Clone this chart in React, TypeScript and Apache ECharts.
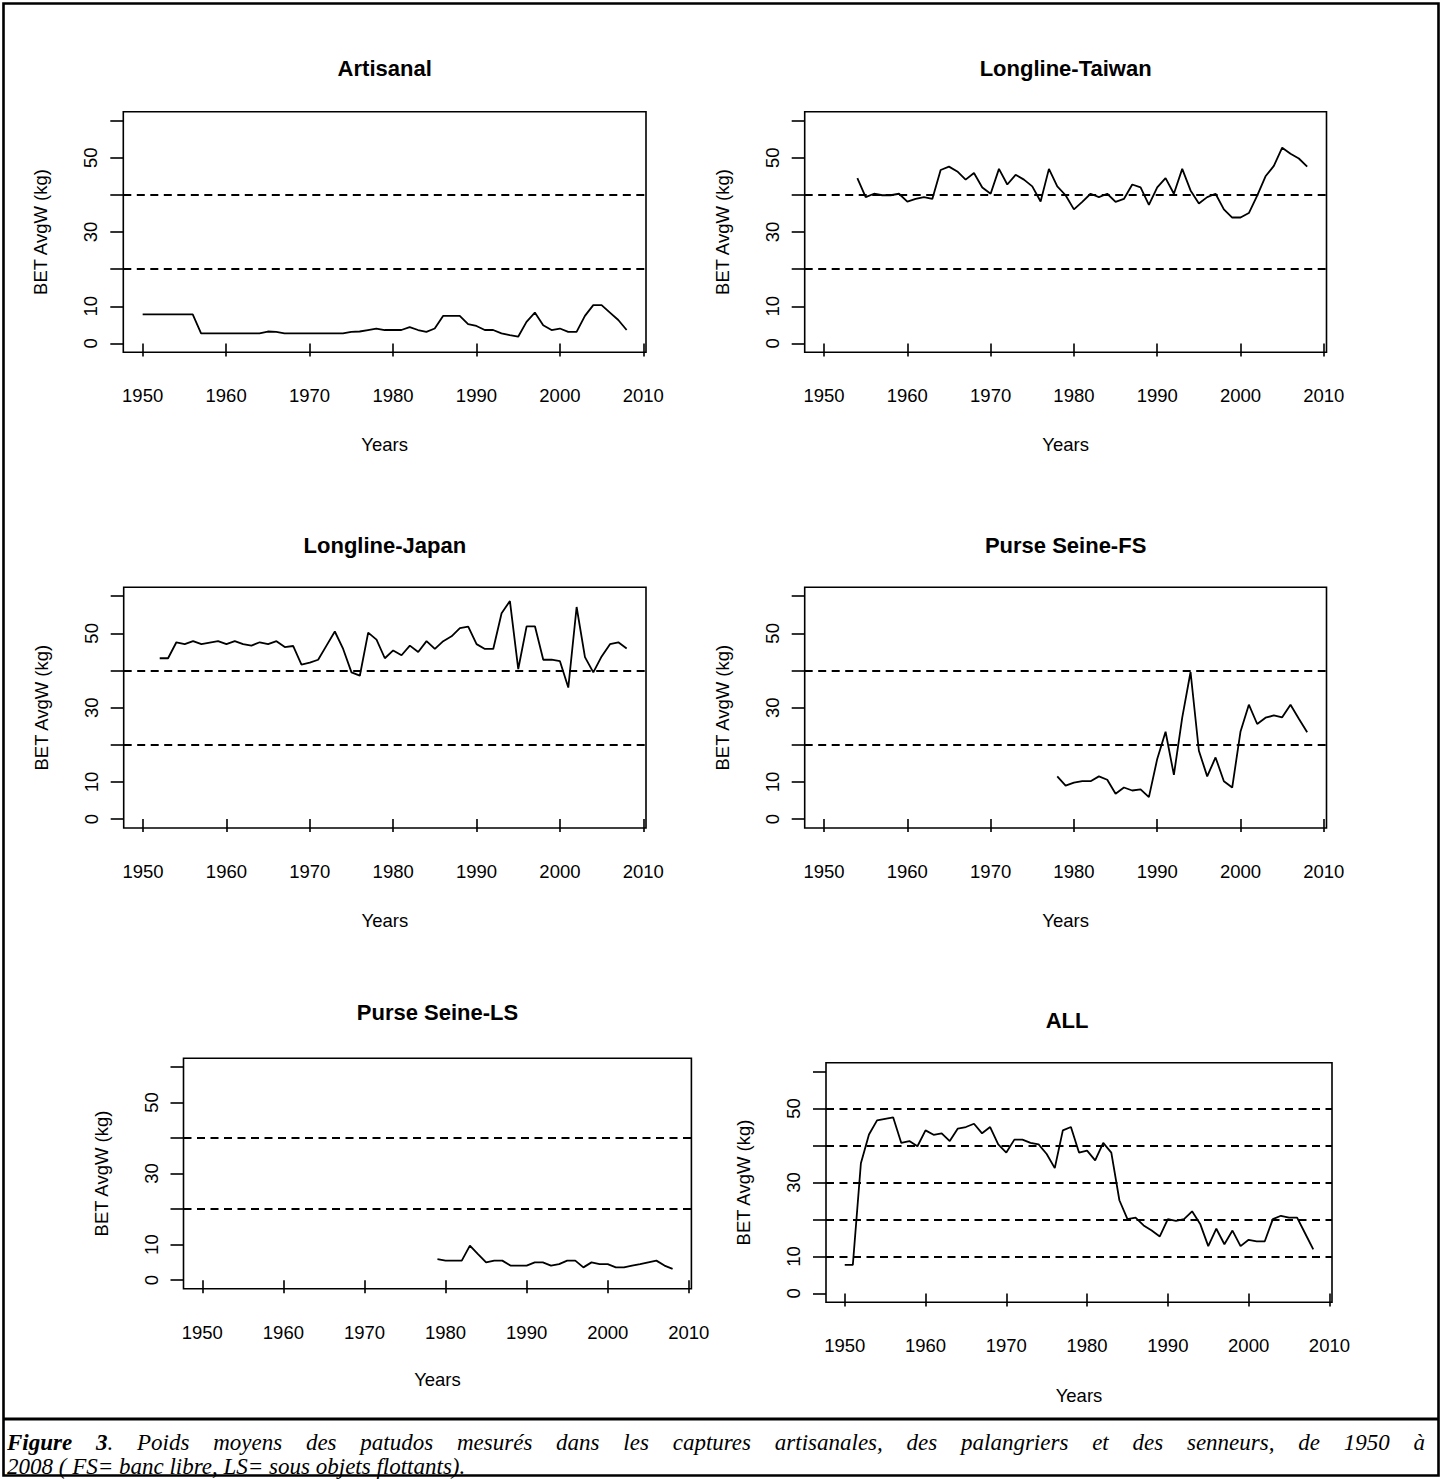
import React, { useEffect, useRef } from "react";
import * as echarts from "echarts";

// ---------- data (average weight, kg) ----------
const xTicks = [1950, 1960, 1970, 1980, 1990, 2000, 2010];
const yTicks = [0, 10, 20, 30, 40, 50, 60];
const yLabels = [0, 10, 30, 50];
const refLines = [20, 40];
const refLinesAll = [10, 20, 30, 40, 50];

const artisanalStart = 1950;
const artisanalW = [
  7.8, 7.8, 7.8, 7.8, 7.8, 7.8, 7.8, 2.7, 2.7, 2.7,
  2.7, 2.7, 2.7, 2.7, 2.7, 3.2, 3.1, 2.7, 2.7, 2.7,
  2.7, 2.7, 2.7, 2.7, 2.7, 3.1, 3.2, 3.6, 4.0, 3.6,
  3.6, 3.6, 4.4, 3.6, 3.1, 4.0, 7.4, 7.4, 7.4, 5.2,
  4.7, 3.6, 3.6, 2.7, 2.2, 1.8, 5.8, 8.3, 4.9, 3.6,
  4.0, 3.1, 3.1, 7.4, 10.3, 10.3, 8.3, 6.3, 3.6,
];

const taiwanStart = 1954;
const taiwanW = [
  44.5, 39.4, 40.3, 39.9, 39.9, 40.3, 38.2, 38.9, 39.4, 38.9,
  46.7, 47.6, 46.3, 44.1, 45.9, 42.0, 40.3, 47.0, 42.8, 45.4,
  44.1, 42.3, 38.2, 47.0, 42.3, 39.9, 36.1, 38.1, 40.3, 39.4,
  40.3, 38.1, 38.9, 42.8, 42.0, 37.3, 42.0, 44.5, 40.3, 47.0,
  41.2, 37.7, 39.4, 40.3, 36.1, 33.9, 33.9, 35.1, 39.8, 45.0,
  47.8, 52.7, 51.1, 49.8, 47.6,
];

const japanStart = 1952;
const japanW = [
  43.3, 43.3, 47.6, 47.1, 47.9, 47.1, 47.5, 47.9,
  47.1, 47.9, 47.1, 46.7, 47.6, 47.1, 47.9, 46.3, 46.6, 41.6,
  42.1, 42.9, 46.7, 50.5, 45.8, 39.5, 38.6, 50.2, 48.3, 43.3,
  45.4, 44.1, 46.7, 45.0, 47.9, 45.8, 47.9, 49.2, 51.4, 51.8,
  47.1, 45.8, 45.8, 55.4, 58.7, 40.4, 51.9, 51.9, 42.9, 42.9,
  42.5, 35.4, 57.1, 43.6, 39.5, 43.8, 47.1, 47.6, 45.9,
];

const fsStart = 1978;
const fsW = [
  11.5, 9.0, 9.8, 10.2, 10.2, 11.5, 10.6, 6.8, 8.5, 7.7, 8.0, 5.9,
  16.2, 23.5, 11.9, 27.3, 39.6, 18.4, 11.5, 16.6, 10.2, 8.5,
  23.6, 30.8, 25.6, 27.3, 27.9, 27.4, 30.8, 27.0, 23.4,
];

const lsStart = 1979;
const lsW = [
  5.9, 5.5, 5.5, 5.5, 9.7, 7.3, 5.0, 5.5, 5.5, 4.1, 4.1,
  4.1, 5.0, 5.0, 4.1, 4.5, 5.5, 5.5, 3.6, 5.0, 4.5,
  4.5, 3.6, 3.6, 4.1, 4.5, 5.0, 5.5, 4.1, 3.2,
];

const allStart = 1950;
const allW = [
  7.7, 7.7, 35.2, 43.0, 46.8, 47.2, 47.6, 40.7, 41.2, 39.8,
  44.1, 42.9, 43.3, 41.2, 44.6, 45.0, 45.9, 43.3, 45.0, 40.3,
  38.1, 41.6, 41.6, 40.7, 40.3, 37.7, 33.9, 44.1, 45.0, 38.1,
  38.6, 36.0, 40.7, 38.1, 25.2, 20.1, 20.5, 18.4, 17.0, 15.4,
  20.1, 19.6, 20.1, 22.2, 18.8, 12.8, 17.5, 13.3, 17.0, 12.8,
  14.5, 14.1, 14.1, 20.1, 21.0, 20.5, 20.5, 16.2, 11.9,
];

const captionLine1Bold = "Figure 3";
const captionLine1Rest =
  ". Poids moyens des patudos mesurés dans les captures artisanales, des palangriers et des senneurs, de 1950 à";
const captionLine2 = "2008 ( FS= banc libre, LS= sous objets flottants).";

// ---------- layout ----------
const SANS = "Liberation Sans";
const SERIF = "Liberation Serif";

const panels = [
  { title: "Artisanal", start: artisanalStart, values: artisanalW, refs: refLines,
    box: { left: 123.3, top: 111.7, width: 522.7, height: 240.6 }, titleX: 384.7, titleY: 68, nameGapX: 83 },
  { title: "Longline-Taiwan", start: taiwanStart, values: taiwanW, refs: refLines,
    box: { left: 804.7, top: 111.7, width: 521.8, height: 240.6 }, titleX: 1065.6, titleY: 68, nameGapX: 83 },
  { title: "Longline-Japan", start: japanStart, values: japanW, refs: refLines,
    box: { left: 123.7, top: 587.3, width: 522.3, height: 240.7 }, titleX: 384.9, titleY: 545, nameGapX: 83 },
  { title: "Purse Seine-FS", start: fsStart, values: fsW, refs: refLines,
    box: { left: 804.7, top: 587.3, width: 521.8, height: 240.7 }, titleX: 1065.6, titleY: 545, nameGapX: 83 },
  { title: "Purse Seine-LS", start: lsStart, values: lsW, refs: refLines,
    box: { left: 183.5, top: 1058.3, width: 507.9, height: 230.4 }, titleX: 437.5, titleY: 1012, nameGapX: 81 },
  { title: "ALL", start: allStart, values: allW, refs: refLinesAll,
    box: { left: 826, top: 1062.7, width: 506, height: 239.6 }, titleX: 1067, titleY: 1020, nameGapX: 84 },
];

function measure(text: string, font: string): number {
  const c = document.createElement("canvas");
  const ctx = c.getContext("2d")!;
  ctx.font = font;
  return ctx.measureText(text).width;
}

function buildCaption(): any[] {
  const size = 23;
  const fItalic = `italic 400 ${size}px "${SERIF}"`;
  const fBold = `italic 700 ${size}px "${SERIF}"`;
  const y1 = 1442;
  const y2 = 1466;
  const left = 7;
  const right = 1425;
  type Run = { t: string; bold: boolean };
  const words: Run[][] = [];
  captionLine1Bold.split(" ").forEach((w, i, arr) => {
    const runs: Run[] = [{ t: w, bold: true }];
    if (i === arr.length - 1) {
      const first = captionLine1Rest.split(" ")[0];
      runs.push({ t: first, bold: false });
    }
    words.push(runs);
  });
  captionLine1Rest.split(" ").slice(1).forEach((w) => words.push([{ t: w, bold: false }]));
  const widths = words.map((runs) =>
    runs.reduce((s, r) => s + measure(r.t, r.bold ? fBold : fItalic), 0)
  );
  const total = widths.reduce((a, b) => a + b, 0);
  const gap = (right - left - total) / (words.length - 1);
  const els: any[] = [];
  let x = left;
  words.forEach((runs, i) => {
    let rx = x;
    runs.forEach((r) => {
      els.push({
        type: "text",
        x: rx,
        y: y1,
        silent: true,
        style: {
          text: r.t,
          fill: "#000",
          fontFamily: SERIF,
          fontSize: size,
          fontStyle: "italic",
          fontWeight: r.bold ? "bold" : "normal",
          align: "left",
          verticalAlign: "middle",
        },
      });
      rx += measure(r.t, r.bold ? fBold : fItalic);
    });
    x += widths[i] + gap;
  });
  els.push({
    type: "text",
    x: left,
    y: y2,
    silent: true,
    style: {
      text: captionLine2,
      fill: "#000",
      fontFamily: SERIF,
      fontSize: size,
      fontStyle: "italic",
      fontWeight: "normal",
      align: "left",
      verticalAlign: "middle",
    },
  });
  return els;
}

function buildOption(): any {
  const labelFont = { fontFamily: SANS, fontSize: 18.5, color: "#000" };
  const grid: any[] = [];
  const xAxis: any[] = [];
  const yAxis: any[] = [];
  const series: any[] = [];
  const graphic: any[] = [];

  panels.forEach((p, i) => {
    grid.push({
      left: p.box.left,
      top: p.box.top,
      width: p.box.width,
      height: p.box.height,
      show: true,
      borderColor: "#000",
      borderWidth: 1.6,
      backgroundColor: "transparent",
      containLabel: false,
    });
    xAxis.push({
      type: "value",
      gridIndex: i,
      min: 1947.68,
      max: 2010.32,
      axisLine: { show: false },
      splitLine: { show: false },
      axisTick: {
        show: true,
        inside: false,
        length: 13,
        customValues: xTicks,
        lineStyle: { color: "#000", width: 1.6 },
      },
      axisLabel: {
        show: true,
        customValues: xTicks,
        margin: 34,
        formatter: (v: number) => String(v),
        ...labelFont,
      },
      name: "Years",
      nameLocation: "middle",
      nameGap: p.nameGapX,
      nameTextStyle: { ...labelFont },
    });
    yAxis.push({
      type: "value",
      gridIndex: i,
      min: -2.4,
      max: 62.4,
      axisLine: { show: false },
      splitLine: { show: false },
      axisTick: {
        show: true,
        inside: false,
        length: 13,
        customValues: yTicks,
        lineStyle: { color: "#000", width: 1.6 },
      },
      axisLabel: {
        show: true,
        customValues: yLabels,
        rotate: 90,
        margin: 23,
        formatter: (v: number) => String(v),
        ...labelFont,
      },
      name: "BET AvgW (kg)",
      nameLocation: "middle",
      nameGap: 73,
      nameTextStyle: { ...labelFont },
    });
    series.push({
      type: "line",
      name: p.title,
      xAxisIndex: i,
      yAxisIndex: i,
      data: p.values.map((v, k) => [p.start + k, v]),
      showSymbol: false,
      symbol: "none",
      lineStyle: { color: "#000", width: 1.8 },
      silent: true,
      markLine: {
        silent: true,
        symbol: ["none", "none"],
        label: { show: false },
        lineStyle: { color: "#000", width: 1.8, type: [8, 5.5] },
        data: p.refs.map((v) => ({ yAxis: v })),
      },
    });
    graphic.push({
      type: "text",
      x: p.titleX,
      y: p.titleY,
      silent: true,
      style: {
        text: p.title,
        fill: "#000",
        fontFamily: SANS,
        fontSize: 22,
        fontWeight: "bold",
        align: "center",
        verticalAlign: "middle",
      },
    });
  });

  graphic.push({
    type: "rect",
    silent: true,
    shape: { x: 3.5, y: 3.5, width: 1435, height: 1472 },
    style: { fill: "none", stroke: "#000", lineWidth: 2.6 },
  });
  graphic.push({
    type: "line",
    silent: true,
    shape: { x1: 3.5, y1: 1419, x2: 1438.5, y2: 1419 },
    style: { stroke: "#000", lineWidth: 2.8 },
  });
  buildCaption().forEach((e) => graphic.push(e));

  return {
    animation: false,
    backgroundColor: "#fff",
    textStyle: { fontFamily: SANS },
    grid,
    xAxis,
    yAxis,
    series,
    graphic,
  };
}

export default function App() {
  const ref = useRef<HTMLDivElement>(null);
  useEffect(() => {
    if (!ref.current) return;
    const chart = echarts.init(ref.current, null, { renderer: "svg" });
    chart.setOption(buildOption());
    return () => chart.dispose();
  }, []);
  return (
    <div
      ref={ref}
      style={{ position: "absolute", left: 0, top: 0, width: 1442, height: 1479, background: "#fff" }}
    />
  );
}
